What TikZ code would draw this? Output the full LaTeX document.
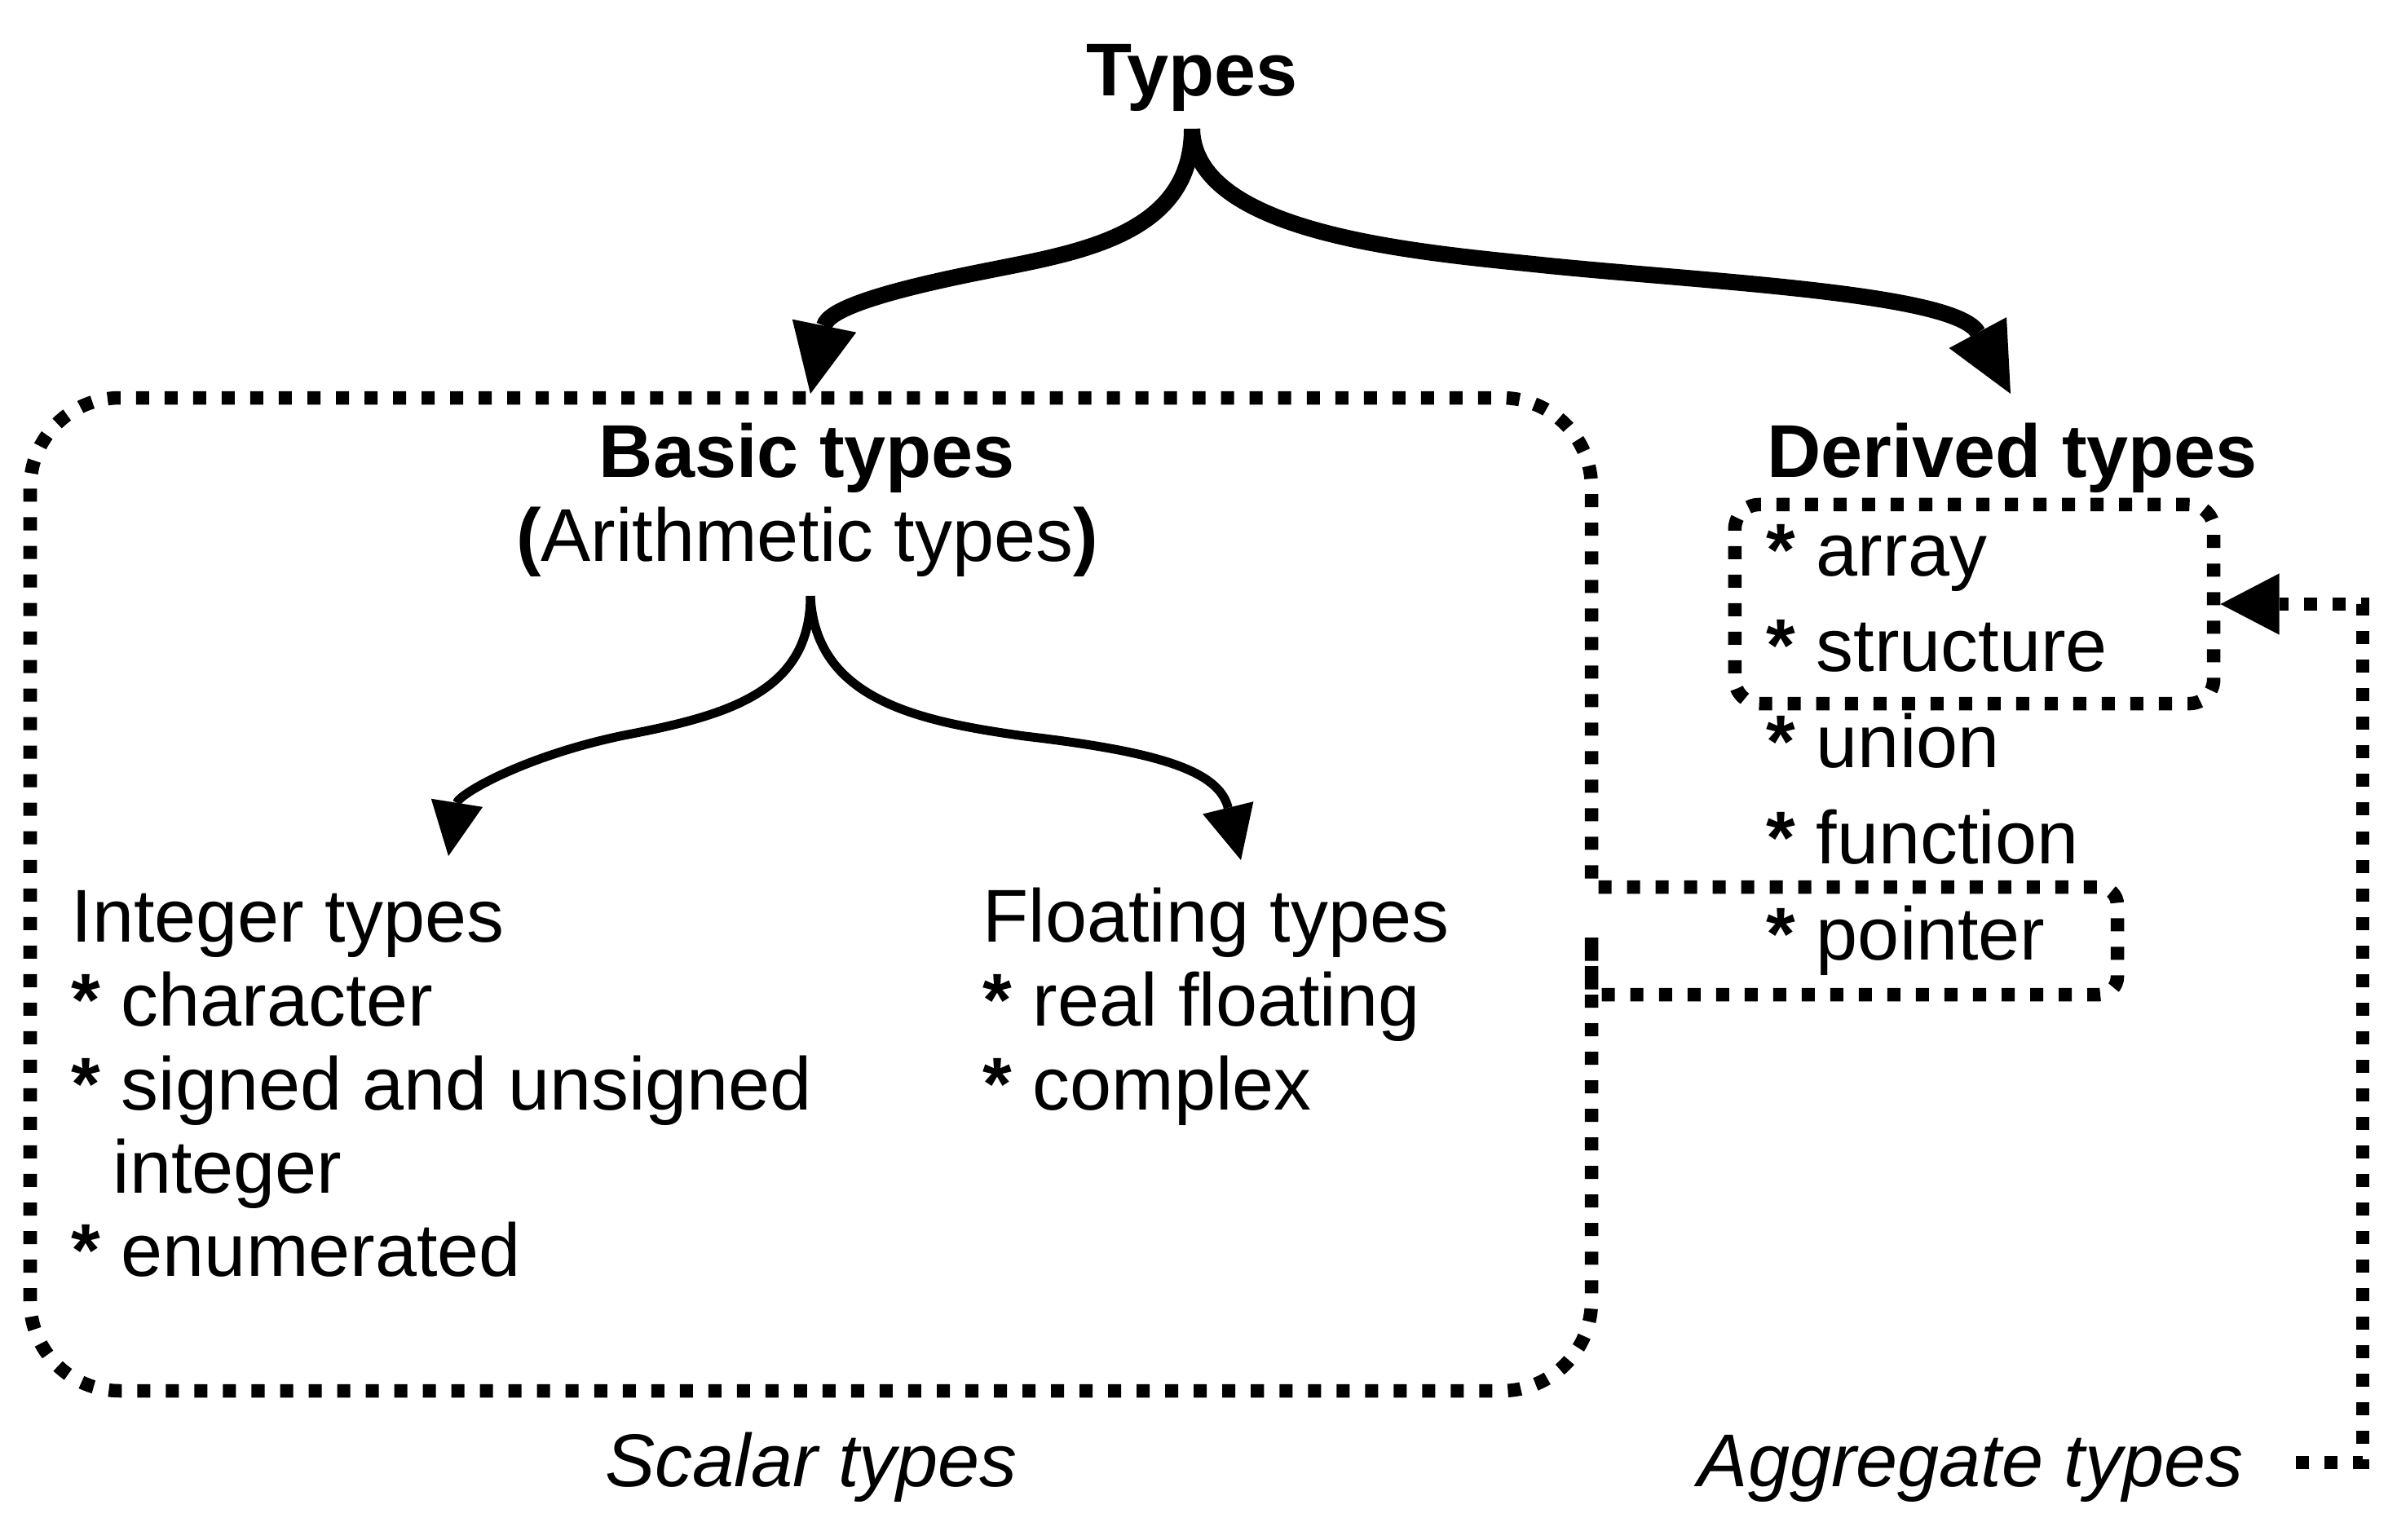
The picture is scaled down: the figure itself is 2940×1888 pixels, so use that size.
\documentclass[tikz,border=0pt]{standalone}
\usepackage{fontspec}
\setmainfont{Liberation Sans}
\usetikzlibrary{arrows.meta}
\begin{document}
\begin{tikzpicture}[x=0.01cm,y=-0.01cm,
  lbl/.style={inner sep=0pt, anchor=base west, font=\fontsize{26.1pt}{29pt}\selectfont},
  ttl/.style={inner sep=0pt, anchor=base, font=\fontsize{26.1pt}{29pt}\selectfont\bfseries},
  capt/.style={inner sep=0pt, anchor=base, font=\fontsize{26.1pt}{29pt}\selectfont\itshape},
  dotbox/.style={line width=0.165cm, dash pattern=on 0.16cm off 0.19cm},
  bigarrow/.style={line width=0.2cm, -{Triangle[length=0.85cm,width=0.8cm,line width=0pt]}},
  smallarrow/.style={line width=0.11cm, -{Triangle[length=0.66cm,width=0.64cm,line width=0pt]}},
  aggarrow/.style={dotbox, -{Triangle[length=0.72cm,width=0.75cm,line width=0pt]}}
]
\useasboundingbox (0,0) rectangle (2940,1888);

% titles
\node[ttl] (types) at (1462,118) {Types};
\node[ttl] (basic) at (990,585) {Basic types};
\node[lbl, anchor=base] (arith) at (990,688) {\textbf{(}Arithmetic types\textbf{)}};
\node[ttl] (derived) at (2468,585) {Derived types};

% integer types
\node[lbl] (int0) at (87,1155) {Integer types};
\node[lbl] (int1) at (87,1258) {\textbf{*} character};
\node[lbl] (int2) at (87,1361) {\textbf{*} signed and unsigned};
\node[lbl] (int3) at (138,1463) {integer};
\node[lbl] (int4) at (87,1565) {\textbf{*} enumerated};

% floating types
\node[lbl] (flt0) at (1205,1155) {Floating types};
\node[lbl] (flt1) at (1205,1258) {\textbf{*} real floating};
\node[lbl] (flt2) at (1205,1361) {\textbf{*} complex};

% derived list
\node[lbl] (der1) at (2166,706) {\textbf{*} array};
\node[lbl] (der2) at (2166,823) {\textbf{*} structure};
\node[lbl] (der3) at (2166,941) {\textbf{*} union};
\node[lbl] (der4) at (2166,1059) {\textbf{*} function};
\node[lbl] (der5) at (2166,1177) {\textbf{*} pointer};

% captions
\node[capt] (scalar) at (995,1823) {Scalar types};
\node[capt] (aggregate) at (2417,1823) {Aggregate types};

% aggregate box
\node[draw, dotbox, rounded corners=0.3cm, minimum width=5.87cm, minimum height=2.44cm, inner sep=0pt] (aggbox) at (2421.5,741) {};

% scalar region
\draw[dotbox] (1952,1150) [rounded corners=1.1cm] -- (1952,1706) -- (37,1706) -- (37,488) -- (1952,488) -- (1952,800)
  [sharp corners] -- (1952,1088) -- (2400,1088)
  [rounded corners=0.22cm] -- (2597,1088) -- (2597,1220) -- (2400,1220)
  [sharp corners] -- (1952,1220) -- (1952,1150);

% main arrows
\coordinate (tfork) at (1462,158);
\coordinate (basictip) at (994,483);
\coordinate (derivtip) at (2466,483);
\draw[bigarrow] (tfork) .. controls (1462,290) and (1320,310) .. (1206,333)
  .. controls (1080,358) and (1015,380) .. (basictip);
\draw[bigarrow] (tfork) .. controls (1465,290) and (1750,310) .. (1900,326)
  .. controls (2100,346) and (2400,360) .. (derivtip);

% secondary arrows
\coordinate (bfork) at (994,731);
\coordinate (inttip) at (550,1050);
\coordinate (flttip) at (1522,1055);
\draw[smallarrow] (bfork) .. controls (994,850) and (890,878) .. (765,902)
  .. controls (640,928) and (562,975) .. (inttip);
\draw[smallarrow] (bfork) .. controls (1000,860) and (1130,885) .. (1257,903)
  .. controls (1420,922) and (1495,945) .. (flttip);

% aggregate arrow
\coordinate (aggstart) at (2816,1794);
\coordinate (aggcorner1) at (2898,1794);
\coordinate (aggcorner2) at (2898,741);
\draw[aggarrow] (aggstart) -- (aggcorner1) -- (aggcorner2) -- (aggbox.east);
\end{tikzpicture}
\end{document}
